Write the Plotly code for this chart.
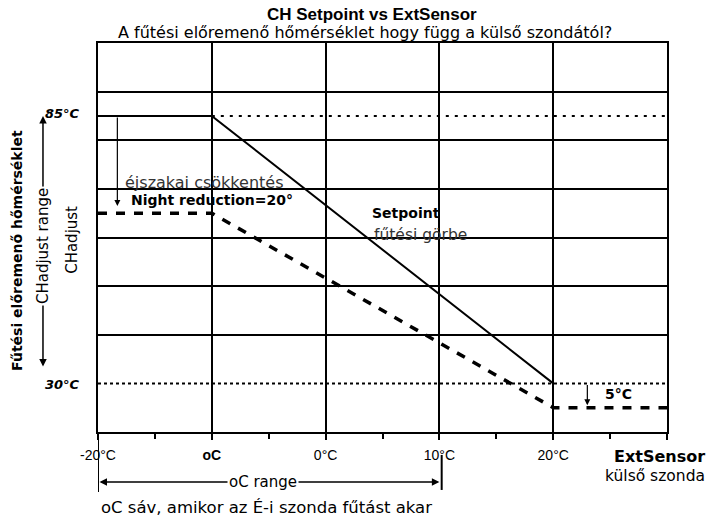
import plotly.graph_objects as go

# ---- data ----
ext_temp_setpoint = [-20, -10, 20]
setpoint_vals = [85, 85, 30]
ext_temp_night = [-20, -10, 20, 30]
night_vals = [65, 65, 25, 25]
max_line_x = [-10, 30]
max_line_y = [85, 85]
min_line_x = [-20, 30]
min_line_y = [30, 30]
x_tick_vals = [-20, -10, 0, 10, 20, 30]
x_tick_text = ["-20°C", "<b>oC</b>", "0°C", "10°C", "20°C", ""]
x_minor_vals = [-15, -5, 5, 15, 25]
y_grid_vals = [40, 50, 60, 70, 80, 90]
night_reduction = 20
min_reduction = 5

FONT = "Liberation Sans, Arial, sans-serif"
WIDE = "DejaVu Sans, Liberation Sans, sans-serif"

fig = go.Figure()
fig.add_trace(go.Scatter(x=min_line_x, y=min_line_y, mode="lines",
                         line=dict(color="black", width=2, dash="3px,3px"), showlegend=False))
fig.add_trace(go.Scatter(x=max_line_x, y=max_line_y, mode="lines",
                         line=dict(color="black", width=2, dash="3px,6px"), showlegend=False))
fig.add_trace(go.Scatter(x=ext_temp_setpoint, y=setpoint_vals, mode="lines",
                         line=dict(color="black", width=2), showlegend=False))
fig.add_trace(go.Scatter(x=ext_temp_night, y=night_vals, mode="lines",
                         line=dict(color="black", width=3.5, dash="9px,9px"), showlegend=False))

ann = []
def txt(text, x, y, xref="x", yref="y", size=13, xanchor="center", angle=0, bg=None,
        color="black", family=WIDE):
    d = dict(text=text, x=x, y=y, xref=xref, yref=yref, showarrow=False, xanchor=xanchor,
             yanchor="middle", textangle=angle, font=dict(family=family, size=size, color=color))
    if bg:
        d["bgcolor"] = bg
    ann.append(d)

txt("<b>CH Setpoint vs ExtSensor</b>", 0.4815, 1.072, "paper", "paper", size=17, family=FONT)
txt("A fűtési előremenő hőmérséklet hogy függ a külső szondától?", 0.469, 1.028, "paper", "paper", size=16)
txt("<b><i>85°C</i></b>", -0.028, 85.5, "paper", "y", size=13, xanchor="right")
txt("<b><i>30°C</i></b>", -0.028, 29.8, "paper", "y", size=13, xanchor="right")
txt("<b>Fűtési előremenő hőmérséklet</b>", -0.1424, 0.468, "paper", "paper", size=14, angle=-90)
txt("CHadjust", -0.0457, 0.494, "paper", "paper", size=15, angle=-90)
txt("éjszakai csökkentés", -17.8, 71.4, size=16, xanchor="left", color="#333")
txt("<b>Night reduction=20°</b>", -17.3, 67.7, size=14, xanchor="left")
txt("<b>Setpoint</b>", 3.9, 65.0, size=14, xanchor="left")
txt("fűtési görbe", 4.1, 60.5, size=15.5, xanchor="left", color="#333")
txt("<b>5°C</b>", 24.4, 27.9, size=14, xanchor="left")
txt("<b>ExtSensor</b>", 1.07, -0.062, "paper", "paper", size=16, xanchor="right")
txt("külső szonda", 1.07, -0.113, "paper", "paper", size=15.5, xanchor="right")
txt("oC sáv, amikor az É-i szonda fűtást akar", 0.297, -0.193, "paper", "paper", size=16.5)

# CHadjust range vertical double arrow
ann.append(dict(x=-0.0967, y=85, xref="paper", yref="y", ax=0, ay=252, axref="pixel", ayref="pixel",
                text="", showarrow=True, arrowhead=2, startarrowhead=2, arrowside="end+start",
                arrowwidth=1.5, arrowsize=1, startarrowsize=1, arrowcolor="black"))
txt("CHadjust range", -0.0967, 0.478, "paper", "paper", size=15, angle=-90, bg="white")

# night reduction arrow
ann.append(dict(x=-18.3, y=85 - night_reduction + 1.5, ax=-18.3, ay=85, xref="x", yref="y",
                axref="x", ayref="y", text="", showarrow=True, arrowhead=2, arrowwidth=1.2,
                arrowsize=1, arrowcolor="black"))
# 5°C arrow
ann.append(dict(x=23.0, y=30 - min_reduction + 0.5, ax=23.0, ay=30, xref="x", yref="y",
                axref="x", ayref="y", text="", showarrow=True, arrowhead=2, arrowwidth=1.2,
                arrowsize=1, arrowcolor="black"))
# oC range horizontal double arrow
ann.append(dict(x=10, y=-0.1285, ax=-20, ay=0, xref="x", yref="paper", axref="x", ayref="pixel",
                text="", showarrow=True, arrowhead=2, startarrowhead=2, arrowside="end+start",
                arrowwidth=1.5, arrowsize=1, startarrowsize=1, arrowcolor="black"))
txt("oC range", 0.29, -0.1285, "paper", "paper", size=15, bg="white")

shapes = [
    dict(type="line", xref="x", yref="paper", x0=-20, x1=-20, y0=0, y1=-0.154,
         line=dict(color="black", width=2)),
    dict(type="line", xref="x", yref="paper", x0=10.2, x1=10.2, y0=-0.059, y1=-0.149,
         line=dict(color="black", width=2)),
]

fig.update_layout(
    width=723, height=516,
    margin=dict(l=98, r=56, t=43, b=84),
    paper_bgcolor="white", plot_bgcolor="white",
    font=dict(family=FONT, color="black"),
    annotations=ann, shapes=shapes, showlegend=False,
    xaxis=dict(range=[-20, 30], tickvals=x_tick_vals, ticktext=x_tick_text,
               ticks="outside", ticklen=6, tickwidth=2, tickcolor="black",
               showline=True, mirror=True, linecolor="black", linewidth=2,
               showgrid=True, gridcolor="black", gridwidth=2, zeroline=False,
               tickfont=dict(family=FONT, size=14), ticklabelstandoff=3,
               minor=dict(tickvals=x_minor_vals, ticks="outside", ticklen=5, tickwidth=2,
                          tickcolor="black", showgrid=False)),
    yaxis=dict(range=[20, 100], tickvals=y_grid_vals, showticklabels=False, ticks="",
               showline=True, mirror=True, linecolor="black", linewidth=2,
               showgrid=True, gridcolor="black", gridwidth=2, zeroline=False),
)

fig.write_html("out.html", config={"displayModeBar": False},
               post_script="document.body.style.margin='0';document.body.style.padding='0';")
